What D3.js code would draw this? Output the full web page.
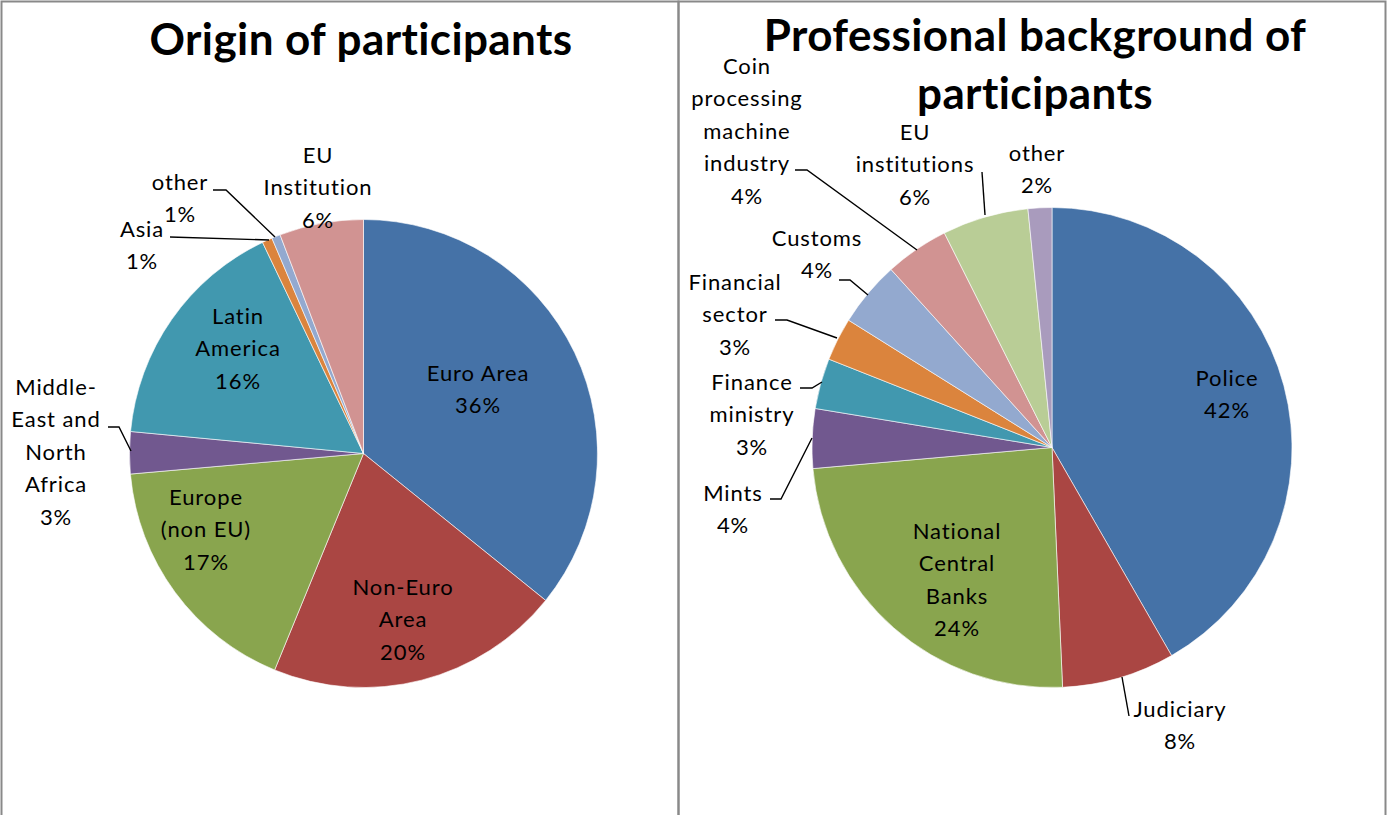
<!DOCTYPE html>
<html>
<head>
<meta charset="utf-8">
<script src="https://cdn.jsdelivr.net/npm/d3@7"></script>
<style>
html,body{margin:0;padding:0;background:#fff;}
svg{display:block;}
text{font-family:Lato,"Liberation Sans",sans-serif;fill:#000;}
</style>
</head>
<body>
<svg id="chart" width="1387" height="815"></svg>
<script>
// ---- Data ----
const originCategories = ["Euro Area","Non-Euro Area","Europe (non EU)","Middle-East and North Africa","Latin America","Asia","other","EU Institution"];
const originValues = [35.8, 20.4, 17.4, 2.9, 16.4, 0.7, 0.6, 5.8];
const originLabelLines = [["Euro Area"],["Non-Euro","Area"],["Europe","(non EU)"],["Middle-","East and","North","Africa"],["Latin","America"],["Asia"],["other"],["EU","Institution"]];

const profCategories = ["Police","Judiciary","National Central Banks","Mints","Finance ministry","Financial sector","Customs","Coin processing machine industry","EU institutions","other"];
const profValues = [41.7, 7.6, 24.3, 4.0, 3.4, 2.9, 4.4, 4.3, 5.8, 1.6];
const profLabelLines = [["Police"],["Judiciary"],["National","Central","Banks"],["Mints"],["Finance","ministry"],["Financial","sector"],["Customs"],["Coin","processing","machine","industry"],["EU","institutions"],["other"]];

const titles = [["Origin of participants"],["Professional background of","participants"]];

const palette = ["#4572A7","#AA4643","#89A54E","#71588F","#4198AF","#DB843D","#93A9CF","#D19392","#B9CD96","#A99BBD"];

// ---- Layout (positions/styles) ----
const svg = d3.select("#chart");
const W = 1387, H = 815;

// panel borders
svg.append("rect").attr("x",1.5).attr("y",1.5).attr("width",677).attr("height",H+10)
  .attr("fill","none").attr("stroke","#898989").attr("stroke-width",2);
svg.append("rect").attr("x",678.5).attr("y",1.5).attr("width",707).attr("height",H+10)
  .attr("fill","none").attr("stroke","#898989").attr("stroke-width",2);

const FS = 22;    // label font size
const LH = 32.5;  // label line height

function drawPie(cfg){
  const g = svg.append("g").attr("transform",`translate(${cfg.cx},${cfg.cy})`);
  const pie = d3.pie().sort(null).value(d=>d.v);
  const arcs = pie(cfg.values.map((v,i)=>({v,i})));
  const arc = d3.arc().innerRadius(0).outerRadius(cfg.r);
  g.selectAll("path.slice").data(arcs).enter().append("path")
    .attr("class","slice")
    .attr("d",arc)
    .attr("fill",d=>palette[d.data.i])
    .attr("stroke","#fff").attr("stroke-width",0.6);

  // leader lines
  cfg.leaders.forEach(pts=>{
    svg.append("polyline").attr("points",pts.map(p=>p.join(",")).join(" "))
      .attr("fill","none").attr("stroke","#000").attr("stroke-width",1.4);
  });

  // labels
  arcs.forEach((a,i)=>{
    const pos = cfg.labelPos[i];
    const lines = cfg.labelLines[i].concat([Math.round(a.data.v)+"%"]);
    const t = svg.append("text").attr("text-anchor","middle").attr("font-size",FS)
      .attr("letter-spacing","0.9px");
    lines.forEach((ln,k)=>{
      t.append("tspan").attr("x",pos[0]).attr("y",pos[1]+k*LH).attr("dy","0.36em").text(ln);
    });
  });

  // title
  const tt = svg.append("text").attr("text-anchor","middle").attr("font-size",cfg.titleSize)
    .attr("font-weight","bold").attr("letter-spacing","0.4px");
  cfg.title.forEach((ln,k)=>{
    tt.append("tspan").attr("x",cfg.titleX).attr("y",cfg.titleY+k*58).text(ln);
  });
}

drawPie({
  cx:363.5, cy:453.5, r:234,
  values: originValues, labelLines: originLabelLines,
  labelPos: [[478,373],[403,587],[206,497],[56,387],[238,316],[142,229],[180,182],[318,155]],
  leaders: [
    [[108,427],[119,427],[131,451]],
    [[170,237],[269,240]],
    [[213,190],[226,190],[275,237]]
  ],
  title: titles[0], titleX: 361, titleY: 55, titleSize: 44
});

drawPie({
  cx:1052, cy:447.5, r:240,
  values: profValues, labelLines: profLabelLines,
  labelPos: [[1227,378],[1180,709],[957,531],[733,493],[752,382],[735,282],[817,238],[747,66],[915,132],[1037,153]],
  leaders: [
    [[1122,677],[1129,716]],
    [[770,499],[781,499],[812,438]],
    [[800,388],[812,388],[822,382]],
    [[775,320],[787,320],[837,338]],
    [[839,280],[850,280],[868,295]],
    [[795,170],[807,170],[917,250]],
    [[982,172],[985,215]]
  ],
  title: titles[1], titleX: 1035, titleY: 51, titleSize: 44
});
</script>
</body>
</html>
